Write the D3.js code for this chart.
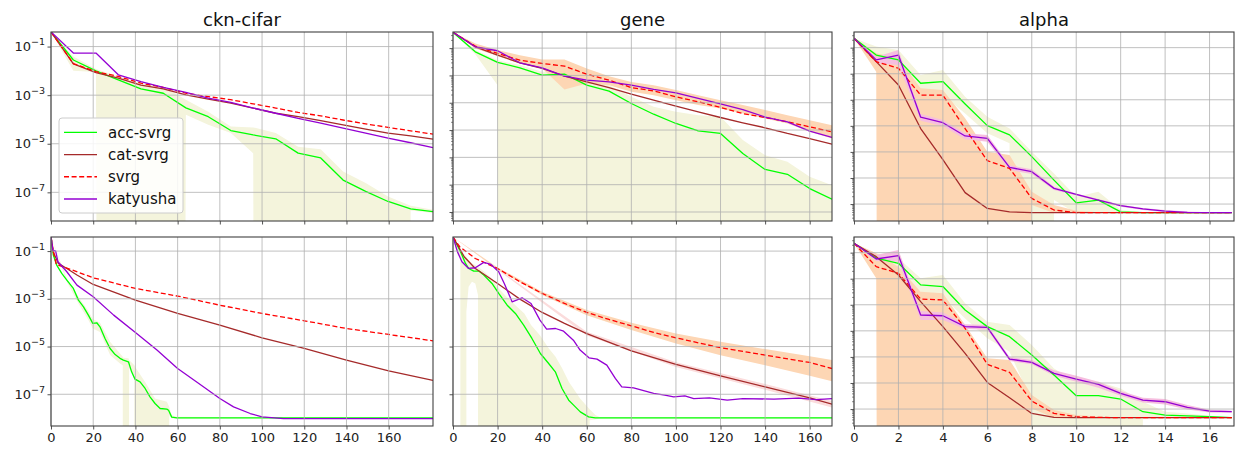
<!DOCTYPE html>
<html><head><meta charset="utf-8">
<script src="https://cdn.jsdelivr.net/npm/d3@7"></script>
<style>body{margin:0;background:#fff} svg{font-family:"DejaVu Sans",sans-serif;display:block}</style>
</head><body><svg id="c" width="1238" height="450"></svg>
<script>
// ---------------- DATA ----------------
const seriesNames = ["acc-svrg", "cat-svrg", "svrg", "katyusha"];
const panelTitles = ["ckn-cifar", "gene", "alpha"];
const xTicksLong = [0, 20, 40, 60, 80, 100, 120, 140, 160];
const xTicksAlpha = [0, 2, 4, 6, 8, 10, 12, 14, 16];
const yTickExp = [-1, -3, -5, -7];

// ckn-cifar, top row
const cknTopX = [0, 10.6, 21.3, 31.9, 42.6, 53.2, 63.9, 74.5, 85.2, 95.8, 106.5, 117.1, 127.8, 138.4, 149.1, 159.7, 170.4, 181];
const cknTopAcc = [0.4, 2.8e-2, 1.0e-2, 4.3e-3, 1.8e-3, 1.2e-3, 3.0e-4, 1.3e-4, 3.5e-5, 2.3e-5, 1.6e-5, 4.1e-6, 2.6e-6, 3.2e-7, 1.1e-7, 4.2e-8, 2.1e-8, 1.6e-8];
const cknTopAccHi = [0.4, 3.9e-2, 1.2e-2, 5.9e-3, 3.1e-3, 2.2e-3, 6.5e-4, 2.1e-4, 5.1e-5, 4.7e-5, 2.8e-5, 7.6e-6, 6.0e-6, 7.2e-7, 2.4e-7, 6.8e-8, 2.8e-8, 1.9e-8];
const cknTopAccLo = [0.4, 1.0e-2, 8.9e-3, 0, 0, 0, 1.55e-4, 6.0e-5, 2.8e-5, 4.1e-6, 0, 0, 0, 0, 0, 0, 1.8e-8, 1.4e-8];
const cknTopCat = [0.4, 1.95e-2, 8.5e-3, 5.0e-3, 2.6e-3, 1.8e-3, 1.02e-3, 6.9e-4, 4.7e-4, 2.95e-4, 1.8e-4, 1.3e-4, 8.9e-5, 6.0e-5, 4.0e-5, 2.75e-5, 2.1e-5, 1.55e-5];
const cknTopSvrg = [0.4, 2.0e-2, 9.3e-3, 5.9e-3, 3.1e-3, 2.1e-3, 1.2e-3, 8.7e-4, 6.5e-4, 4.4e-4, 2.95e-4, 1.95e-4, 1.4e-4, 9.5e-5, 6.6e-5, 4.7e-5, 3.4e-5, 2.5e-5];
const cknTopKat = [0.4, 5.4e-2, 5.4e-2, 6.9e-3, 3.6e-3, 2.1e-3, 1.3e-3, 7.6e-4, 5.0e-4, 2.95e-4, 1.8e-4, 1.1e-4, 7.1e-5, 4.4e-5, 2.75e-5, 1.7e-5, 1.1e-5, 6.9e-6];

// ckn-cifar, bottom row
const cknBotAccX = [0, 1.1, 2.7, 5.1, 7.5, 10.6, 13.0, 15.4, 17.7, 19.8, 21.7, 23.2, 25.6, 28.0, 30.4, 32.7, 34.3, 36.7, 38.2, 39.8, 42.2, 44.6, 46.9, 49.3, 51.7, 54.9, 55.7, 57.2, 59.6, 181];
const cknBotAcc = [0.4, 6.8e-2, 2.59e-2, 1.16e-2, 6.1e-3, 2.72e-3, 8.8e-4, 4.6e-4, 2.07e-4, 9.3e-5, 9.9e-5, 6.7e-5, 2.18e-5, 8.3e-6, 4.6e-6, 3.2e-6, 2.7e-6, 2.3e-6, 8.7e-7, 4.3e-7, 3.3e-7, 1.75e-7, 7.8e-8, 4.1e-8, 2.53e-8, 2.37e-8, 2.15e-8, 1.1e-8, 1.03e-8, 1.03e-8];
const cknBotAccBandX = [0, 7.5, 13, 17.7, 19.8, 23.2, 28, 32.7, 34.0, 34.3, 36.7, 37.0, 39.5, 39.8, 44.6, 49.3, 54.9, 56, 57.2, 59.6, 181];
const cknBotAccHi = [0.4, 7.1e-3, 1.22e-3, 3.05e-4, 1.41e-4, 1.02e-4, 1.58e-5, 5.1e-6, 3.7e-6, 3.4e-6, 3.2e-6, 2.7e-6, 1.66e-6, 1.41e-6, 3.3e-7, 6.6e-8, 4.8e-8, 2.97e-8, 1.33e-8, 1.13e-8, 1.03e-8];
const cknBotAccLo = [0.4, 5.2e-3, 6.4e-4, 1.28e-4, 5.7e-5, 4.1e-5, 4.4e-6, 1.95e-6, 1.66e-6, 0, 0, 1.2e-6, 6.3e-7, 0, 0, 0, 0, 1.33e-8, 9.6e-9, 9.6e-9, 1.03e-8];
const cknBotCatX = [0, 1, 3.5, 7.5, 12.3, 20, 40, 60, 80, 100, 120, 140, 160, 181];
const cknBotCat = [0.4, 9.4e-2, 3.04e-2, 1.87e-2, 9.9e-3, 4.0e-3, 8.8e-4, 2.43e-4, 7.9e-5, 2.32e-5, 8.3e-6, 2.7e-6, 9.6e-7, 3.8e-7];
const cknBotSvrgX = [0, 1, 2.5, 7.5, 20, 40, 60, 80, 100, 120, 140, 160, 181];
const cknBotSvrg = [0.4, 0.11, 2.76e-2, 1.94e-2, 7.6e-3, 2.72e-3, 1.3e-3, 5.4e-4, 2.43e-4, 1.2e-4, 5.7e-5, 3.2e-5, 1.74e-5];
const cknBotKatX = [0, 0.9, 2.2, 3.3, 7.5, 12.3, 20, 29.7, 40, 50.2, 60, 70.7, 80, 86.5, 94.4, 100, 110.2, 181];
const cknBotKat = [0.4, 0.11, 0.1, 3.57e-2, 1.36e-2, 3.75e-3, 1.22e-3, 2.07e-4, 3.9e-5, 7.1e-6, 1.2e-6, 2.56e-7, 6.6e-8, 2.97e-8, 1.56e-8, 1.13e-8, 9.6e-9, 9.6e-9];

// gene, top row
const geneTopX = [0, 10, 20, 30, 40, 50, 60, 70, 80, 90, 100, 110, 120, 130, 140, 150, 160, 170];
const geneTopAcc = [0.38, 7.3e-2, 3.0e-2, 1.9e-2, 1.02e-2, 1.12e-2, 4.4e-3, 2.66e-3, 9.4e-4, 3.8e-4, 1.74e-4, 9.4e-5, 7.5e-5, 1.38e-5, 3.6e-6, 2.4e-6, 7.2e-7, 2.95e-7];
const geneTopAccHi = [0.38, 8.5e-2, 3.6e-2, 2.4e-2, 1.36e-2, 1.36e-2, 6.7e-3, 4.4e-3, 1.65e-3, 7.1e-4, 4.66e-4, 3.5e-4, 3.05e-4, 4.3e-5, 1.2e-5, 6.9e-6, 1.94e-6, 9.6e-7];
const geneTopAccLo = [0.38, 6.0e-2, 4.4e-3, 0, 0, 0, 0, 0, 0, 0, 0, 0, 0, 0, 0, 0, 0, 0];
const geneTopCat = [0.38, 0.112, 5.5e-2, 2.9e-2, 1.8e-2, 9.4e-3, 5.8e-3, 3.6e-3, 2.07e-3, 1.24e-3, 7.5e-4, 4.66e-4, 2.88e-4, 1.84e-4, 1.21e-4, 7.5e-5, 4.9e-5, 3.04e-5];
const geneTopSvrg = [0.38, 0.118, 6.4e-2, 3.6e-2, 2.74e-2, 2.19e-2, 1.11e-2, 6.7e-3, 3.6e-3, 2.7e-3, 1.65e-3, 1.08e-3, 6.7e-4, 4.0e-4, 2.88e-4, 2.0e-4, 1.31e-4, 8.6e-5];
const geneTopSvrgHi = [0.38, 0.148, 8.5e-2, 5.5e-2, 3.85e-2, 3.85e-2, 1.8e-2, 9.4e-3, 5.8e-3, 4.4e-3, 2.9e-3, 1.9e-3, 1.24e-3, 8.2e-4, 5.4e-4, 3.5e-4, 2.3e-4, 1.51e-4];
const geneTopSvrgLo = [0.38, 9.7e-2, 5.1e-2, 2.74e-2, 1.8e-2, 3.06e-3, 5.1e-3, 4.4e-3, 2.5e-3, 1.9e-3, 1.24e-3, 8.2e-4, 6.2e-4, 4.0e-4, 2.65e-4, 1.74e-4, 8.6e-5, 4.9e-5];
const geneTopKat = [0.38, 0.112, 8.0e-2, 2.9e-2, 1.9e-2, 9.4e-3, 6.7e-3, 5.8e-3, 4.4e-3, 3.1e-3, 2.3e-3, 1.45e-3, 9.0e-4, 5.6e-4, 3.0e-4, 2.0e-4, 9.1e-5, 5.4e-5];

// gene, bottom row
const geneBotAccX = [0, 3.4, 5.6, 7, 9.3, 11.6, 13.8, 17.5, 20.5, 24.3, 28, 31.7, 35.4, 39.2, 42.9, 45.9, 48.9, 51.9, 54.1, 57.1, 60.8, 63.8, 170];
const geneBotAcc = [0.39, 9.4e-2, 3.04e-2, 1.87e-2, 1.45e-2, 1.45e-2, 9.9e-3, 4.4e-3, 1.68e-3, 5.4e-4, 2.43e-4, 7.9e-5, 2.18e-5, 5.1e-6, 1.95e-6, 8.7e-7, 1.75e-7, 5.65e-8, 3.5e-8, 1.83e-8, 1.13e-8, 1.03e-8, 1.03e-8];
const geneBotAccBandX = [0, 2, 3.3, 3.6, 5.6, 6, 7, 8.5, 10, 11.2, 11.6, 14, 17.5, 20.5, 24, 28, 32, 35, 39, 43, 46, 49, 52, 54, 57, 61, 61.3, 64, 66, 170];
const geneBotAccHi = [0.39, 0.15, 0.11, 0.1, 6.5e-2, 5.8e-2, 4.2e-2, 3.04e-2, 2.59e-2, 2.2e-2, 2.1e-2, 1.36e-2, 7.1e-3, 2.72e-3, 1.22e-3, 5.4e-4, 2.43e-4, 7.9e-5, 3.0e-5, 8.3e-6, 3.7e-6, 1.2e-6, 3.3e-7, 1.75e-7, 6.6e-8, 2.53e-8, 2.37e-8, 1.33e-8, 1.1e-8, 1.1e-8];
const geneBotAccLo = [0.39, 6.8e-2, 4.9e-2, 0, 0, 2.86e-4, 3.19e-3, 5.2e-3, 4.4e-3, 1.43e-3, 0, 0, 0, 0, 0, 0, 0, 0, 0, 0, 0, 0, 0, 0, 0, 0, 8.2e-9, 9.0e-9, 9.6e-9, 9.6e-9];
const geneBotCatX = [0, 5, 10, 20, 30, 40, 50, 60, 80, 100, 120, 140, 160, 170];
const geneBotCat = [0.39, 5.8e-2, 1.87e-2, 4.4e-3, 9.7e-4, 2.68e-4, 9.3e-5, 3.5e-5, 6.6e-6, 1.77e-6, 5.9e-7, 2.05e-7, 7.1e-8, 3.85e-8];
const geneBotCatBandX = [0, 60, 100, 140, 170];
const geneBotCatHi = [0.39, 4.2e-5, 2.2e-6, 2.7e-7, 5.2e-8];
const geneBotCatLo = [0.39, 2.9e-5, 1.4e-6, 1.55e-7, 2.8e-8];
const geneBotSvrgX = [0, 3, 10, 20, 30, 40, 50, 60, 70, 80, 90, 100, 120, 140, 160, 170];
const geneBotSvrg = [0.39, 0.152, 4.9e-2, 1.87e-2, 5.2e-3, 1.68e-3, 6.4e-4, 2.68e-4, 1.36e-4, 7.4e-5, 3.9e-5, 2.32e-5, 8.9e-6, 4.4e-6, 2.15e-6, 1.2e-6];
const geneBotSvrgBandX = [0, 20, 40, 60, 80, 100, 120, 140, 160, 170];
const geneBotSvrgHi = [0.39, 2.07e-2, 1.97e-3, 3.36e-4, 9.9e-5, 3.5e-5, 1.58e-5, 7.8e-6, 3.95e-6, 2.7e-6];
const geneBotSvrgLo = [0.39, 1.7e-2, 1.43e-3, 2.07e-4, 4.9e-5, 1.34e-5, 4.36e-6, 1.66e-6, 5.9e-7, 3.5e-7];
const geneBotKatX = [0, 2, 4, 7, 10, 13.8, 17, 20.5, 23, 26.5, 31, 35, 39, 42, 46, 49.6, 54, 57, 61, 64.6, 69, 72.8, 75.7, 81, 90, 95, 99, 104, 108, 115, 123, 130, 144, 155, 163, 170];
const geneBotKat = [0.39, 9.4e-2, 3.57e-2, 1.87e-2, 2.0e-2, 3.35e-2, 2.76e-2, 1.36e-2, 4.4e-3, 7.5e-4, 1.1e-3, 6.4e-4, 1.28e-4, 5.4e-5, 5.7e-5, 4.4e-5, 1.85e-5, 7.1e-6, 3.36e-6, 2.96e-6, 1.66e-6, 4.6e-7, 2.05e-7, 1.86e-7, 1.08e-7, 9.2e-8, 7.8e-8, 8.6e-8, 6.6e-8, 7.1e-8, 5.65e-8, 6.6e-8, 6.2e-8, 6.9e-8, 6.0e-8, 6.6e-8];

// alpha, both rows (x = epochs 0..17)
const alphaX = [0, 1, 2, 3, 4, 5, 6, 7, 8, 9, 10, 11, 12, 13, 14, 15, 16, 17];
const alphaTopAcc = [0.23, 5.2e-2, 3.4e-2, 4.3e-3, 5.0e-3, 6.9e-4, 1.02e-4, 4.5e-5, 6.6e-6, 8.3e-7, 1.12e-7, 1.41e-7, 5.0e-8, 4.7e-8, 4.7e-8, 4.7e-8, 4.7e-8, 4.7e-8];
const alphaTopAccHi = [0.23, 0.11, 8.2e-2, 8.9e-3, 1.39e-2, 1.32e-3, 2.25e-4, 8.0e-5, 1.02e-5, 1.5e-6, 1.91e-7, 2.97e-7, 5.9e-8, 4.9e-8, 4.9e-8, 4.9e-8, 4.9e-8, 4.9e-8];
const alphaTopAccLo = [0.23, 2.9e-2, 1.61e-2, 2.05e-3, 1.53e-3, 3.0e-4, 5.2e-5, 2.13e-5, 0, 1.42e-7, 4.4e-8, 4.4e-8, 4.4e-8, 4.4e-8, 4.4e-8, 4.4e-8, 4.4e-8, 4.4e-8];
const alphaTopCat = [0.23, 2.9e-2, 3.7e-3, 7.9e-5, 5.1e-6, 2.75e-7, 6.8e-8, 5.0e-8, 4.7e-8, 4.7e-8, 4.7e-8, 4.7e-8, 4.7e-8, 4.7e-8, 4.7e-8, 4.7e-8, 4.7e-8, 4.7e-8];
const alphaTopSvrg = [0.23, 2.9e-2, 1.62e-2, 1.51e-3, 1.51e-3, 7.9e-5, 4.6e-6, 2.34e-6, 1.66e-7, 5.9e-8, 4.7e-8, 4.7e-8, 4.7e-8, 4.7e-8, 4.7e-8, 4.7e-8, 4.7e-8, 4.7e-8];
const alphaTopSvrgHi = [0.23, 6.1e-2, 3.9e-2, 2.75e-3, 2.38e-3, 1.94e-4, 1.02e-5, 7.6e-6, 2.97e-7, 9.2e-8, 5.5e-8, 4.9e-8, 4.9e-8, 4.9e-8, 4.9e-8, 4.9e-8, 4.9e-8, 4.9e-8];
const alphaTopSvrgLo = [0.23, 1.2e-2, 0, 0, 0, 0, 0, 0, 9.2e-8, 4.5e-8, 4.5e-8, 4.5e-8, 4.5e-8, 4.5e-8, 4.5e-8, 4.5e-8, 4.5e-8, 4.5e-8];
const alphaTopKat = [0.23, 3.4e-2, 5.2e-2, 2.14e-4, 1.32e-4, 4.1e-5, 3.3e-5, 2.57e-6, 1.74e-6, 4.0e-7, 2.34e-7, 1.41e-7, 8.7e-8, 6.5e-8, 5.4e-8, 4.8e-8, 4.7e-8, 4.7e-8];
const alphaTopKatHi = [0.23, 4.5e-2, 8.2e-2, 2.85e-4, 1.68e-4, 5.2e-5, 4.5e-5, 3.1e-6, 2.14e-6, 4.6e-7, 2.56e-7, 1.56e-7, 9.4e-8, 7.0e-8, 5.9e-8, 5.2e-8, 4.9e-8, 4.9e-8];
const alphaTopKatLo = [0.23, 2.5e-2, 2.17e-2, 1.58e-4, 9.9e-5, 3.03e-5, 2.47e-5, 2.02e-6, 1.42e-6, 3.44e-7, 2.15e-7, 1.3e-7, 7.9e-8, 5.9e-8, 4.9e-8, 4.4e-8, 4.4e-8, 4.4e-8];

const alphaBotAcc = [0.23, 6.1e-2, 3.9e-2, 5.8e-3, 5.0e-3, 6.3e-4, 1.45e-4, 6.0e-5, 1.18e-5, 2.02e-6, 3.25e-7, 3.25e-7, 2.42e-7, 7.9e-8, 5.9e-8, 5.5e-8, 5.1e-8, 4.65e-8];
const alphaBotAccHi = [0.23, 9.4e-2, 6.1e-2, 1.04e-2, 1.39e-2, 1.14e-3, 2.25e-4, 1.68e-4, 2.86e-5, 3.6e-6, 1.12e-6, 1.12e-6, 6.2e-7, 1.91e-7, 7.9e-8, 6.8e-8, 5.5e-8, 4.9e-8];
const alphaBotAccLo = [0.23, 4.5e-2, 2.5e-2, 3.19e-3, 2.05e-3, 3.0e-4, 5.2e-5, 1.59e-5, 1.91e-7, 0, 0, 0, 0, 4.4e-8, 4.4e-8, 4.4e-8, 4.4e-8, 4.4e-8];
const alphaBotCat = [0.23, 7.0e-2, 1.39e-2, 1.32e-3, 1.45e-4, 1.37e-5, 1.05e-6, 2.72e-7, 6.8e-8, 4.8e-8, 4.65e-8, 4.65e-8, 4.65e-8, 4.65e-8, 4.65e-8, 4.65e-8, 4.65e-8, 4.65e-8];
const alphaBotSvrg = [0.23, 2.9e-2, 1.61e-2, 1.67e-3, 1.53e-3, 1.25e-4, 5.2e-6, 2.55e-6, 2.03e-7, 6.8e-8, 5.1e-8, 4.8e-8, 4.65e-8, 4.65e-8, 4.65e-8, 4.65e-8, 4.65e-8, 4.65e-8];
const alphaBotSvrgHi = [0.23, 9.4e-2, 2.9e-2, 3.19e-3, 2.75e-3, 1.68e-4, 8.8e-6, 7.6e-6, 3.44e-7, 9.1e-8, 5.9e-8, 5.2e-8, 4.9e-8, 4.9e-8, 4.9e-8, 4.9e-8, 4.9e-8, 4.9e-8];
const alphaBotSvrgLo = [0.23, 1.04e-2, 0, 0, 0, 0, 0, 0, 1.06e-7, 4.65e-8, 4.4e-8, 4.4e-8, 4.4e-8, 4.4e-8, 4.4e-8, 4.4e-8, 4.4e-8, 4.4e-8];
const alphaBotKat = [0.23, 5.7e-2, 7.7e-2, 4.06e-4, 3.8e-4, 1.45e-4, 1.36e-4, 8.3e-6, 6.2e-6, 2.34e-6, 1.42e-6, 8.9e-7, 4.0e-7, 2.2e-7, 1.91e-7, 1.16e-7, 8.4e-8, 7.9e-8];
const alphaBotKatHi = [0.23, 8.1e-2, 0.127, 5.8e-4, 5.1e-4, 1.78e-4, 1.68e-4, 9.9e-6, 7.6e-6, 3.05e-6, 1.9e-6, 1.12e-6, 4.9e-7, 2.72e-7, 2.42e-7, 1.42e-7, 9.4e-8, 8.6e-8];
const alphaBotKatLo = [0.23, 4.8e-2, 4.5e-2, 2.6e-4, 2.6e-4, 1.18e-4, 1.11e-4, 6.95e-6, 5.2e-6, 1.9e-6, 1.12e-6, 6.6e-7, 3.25e-7, 1.8e-7, 1.51e-7, 9.7e-8, 7.4e-8, 7.2e-8];

// ---------------- STYLE / LAYOUT ----------------
const lineColor = {acc: "#00ff00", cat: "#a52a2a", svrg: "#ff0000", kat: "#9400d3"};
const bandColor = {acc: "#f4f4dc", cat: "#fbdcdc", svrg: "#fdd6b4", kat: "#f6bedf"};
const keyOrder = ["acc", "cat", "svrg", "kat"];
const colX = [[51, 433], [453, 832], [854, 1234]];
const rowY = [[32, 221], [237, 426]];
const gridColor = "#b0b0b0";
const spineColor = "#404040";
const tickFont = 13;

const panels = [
  {col: 0, row: 0, xmax: 181, xticks: xTicksLong, yexp: [-8.18, -0.40], major: "odd", minor: false,
   bands: [{k: "acc", x: cknTopX, hi: cknTopAccHi, lo: cknTopAccLo}],
   lines: [{k: "acc", x: cknTopX, y: cknTopAcc}, {k: "cat", x: cknTopX, y: cknTopCat}, {k: "svrg", x: cknTopX, y: cknTopSvrg}, {k: "kat", x: cknTopX, y: cknTopKat}]},
  {col: 0, row: 1, xmax: 181, xticks: xTicksLong, yexp: [-8.33, -0.41], major: "odd", minor: false,
   bands: [{k: "acc", x: cknBotAccBandX, hi: cknBotAccHi, lo: cknBotAccLo}],
   lines: [{k: "acc", x: cknBotAccX, y: cknBotAcc}, {k: "cat", x: cknBotCatX, y: cknBotCat}, {k: "svrg", x: cknBotSvrgX, y: cknBotSvrg}, {k: "kat", x: cknBotKatX, y: cknBotKat}]},
  {col: 1, row: 0, xmax: 170, xticks: xTicksLong, yexp: [-7.33, -0.41], major: "all", minor: true,
   bands: [{k: "acc", x: geneTopX, hi: geneTopAccHi, lo: geneTopAccLo}, {k: "svrg", x: geneTopX, hi: geneTopSvrgHi, lo: geneTopSvrgLo}],
   lines: [{k: "acc", x: geneTopX, y: geneTopAcc}, {k: "cat", x: geneTopX, y: geneTopCat}, {k: "svrg", x: geneTopX, y: geneTopSvrg}, {k: "kat", x: geneTopX, y: geneTopKat}]},
  {col: 1, row: 1, xmax: 170, xticks: xTicksLong, yexp: [-8.33, -0.41], major: "odd", minor: false,
   bands: [{k: "acc", x: geneBotAccBandX, hi: geneBotAccHi, lo: geneBotAccLo}, {k: "cat", x: geneBotCatBandX, hi: geneBotCatHi, lo: geneBotCatLo}, {k: "svrg", x: geneBotSvrgBandX, hi: geneBotSvrgHi, lo: geneBotSvrgLo}],
   lines: [{k: "acc", x: geneBotAccX, y: geneBotAcc}, {k: "cat", x: geneBotCatX, y: geneBotCat}, {k: "svrg", x: geneBotSvrgX, y: geneBotSvrg}, {k: "kat", x: geneBotKatX, y: geneBotKat}]},
  {col: 2, row: 0, xmax: 17.1, xticks: xTicksAlpha, yexp: [-7.65, -0.40], major: "all", minor: true,
   bands: [{k: "acc", x: alphaX, hi: alphaTopAccHi, lo: alphaTopAccLo}, {k: "svrg", x: alphaX, hi: alphaTopSvrgHi, lo: alphaTopSvrgLo}, {k: "kat", x: alphaX, hi: alphaTopKatHi, lo: alphaTopKatLo}],
   lines: [{k: "acc", x: alphaX, y: alphaTopAcc}, {k: "cat", x: alphaX, y: alphaTopCat}, {k: "svrg", x: alphaX, y: alphaTopSvrg}, {k: "kat", x: alphaX, y: alphaTopKat}]},
  {col: 2, row: 1, xmax: 17.1, xticks: xTicksAlpha, yexp: [-7.65, -0.40], major: "all", minor: true,
   bands: [{k: "acc", x: alphaX, hi: alphaBotAccHi, lo: alphaBotAccLo}, {k: "svrg", x: alphaX, hi: alphaBotSvrgHi, lo: alphaBotSvrgLo}, {k: "kat", x: alphaX, hi: alphaBotKatHi, lo: alphaBotKatLo}],
   lines: [{k: "acc", x: alphaX, y: alphaBotAcc}, {k: "cat", x: alphaX, y: alphaBotCat}, {k: "svrg", x: alphaX, y: alphaBotSvrg}, {k: "kat", x: alphaX, y: alphaBotKat}]}
];

// ---------------- DRAW ----------------
const svg = d3.select("#c");
const defs = svg.append("defs");
const FLOOR = 1e-300; // non-positive lower bounds are clipped like matplotlib does

panels.forEach((p, pi) => {
  const [x0, x1] = colX[p.col], [y0, y1] = rowY[p.row];
  const x = d3.scaleLinear().domain([0, p.xmax]).range([x0, x1]);
  const y = d3.scaleLog().domain([Math.pow(10, p.yexp[0]), Math.pow(10, p.yexp[1])]).range([y1, y0]);
  const clipId = "clip" + pi;
  defs.append("clipPath").attr("id", clipId).append("rect")
    .attr("x", x0).attr("y", y0).attr("width", x1 - x0).attr("height", y1 - y0);
  const g = svg.append("g");
  const plot = g.append("g").attr("clip-path", `url(#${clipId})`);

  p.bands.forEach(b => {
    const pts = b.x.map((xv, i) => ({x: xv, hi: b.hi[i], lo: b.lo[i] > 0 ? b.lo[i] : FLOOR}));
    const area = d3.area().x(d => x(d.x)).y0(d => y(d.lo)).y1(d => y(d.hi));
    plot.append("path").attr("d", area(pts)).attr("fill", bandColor[b.k]).attr("stroke", "none");
  });

  const lo = Math.ceil(p.yexp[0]), hi = Math.floor(p.yexp[1]);
  const majors = [];
  for (let e = hi; e >= lo; e--) {
    if (p.major === "all" || Math.abs(e) % 2 === 1) majors.push(Math.pow(10, e));
  }
  const gg = g.append("g");
  gg.selectAll("line.gx").data(p.xticks).join("line")
    .attr("x1", d => x(d)).attr("x2", d => x(d)).attr("y1", y0).attr("y2", y1)
    .attr("stroke", gridColor).attr("stroke-width", 0.8);
  gg.selectAll("line.gy").data(majors).join("line")
    .attr("x1", x0).attr("x2", x1).attr("y1", d => y(d)).attr("y2", d => y(d))
    .attr("stroke", gridColor).attr("stroke-width", 0.8);

  p.lines.forEach(l => {
    const pts = l.x.map((xv, i) => [xv, l.y[i]]);
    const line = d3.line().x(d => x(d[0])).y(d => y(d[1]));
    const path = plot.append("path").attr("d", line(pts)).attr("fill", "none")
      .attr("stroke", lineColor[l.k]).attr("stroke-width", 1.3).attr("stroke-linejoin", "round");
    if (l.k === "svrg") path.attr("stroke-dasharray", "5,2.6");
  });

  const yAxis = d3.axisLeft(y).tickValues(majors).tickSize(3.5).tickFormat(() => "");
  const ya = g.append("g").attr("transform", `translate(${x0},0)`).call(yAxis);
  if (p.minor) {
    const minors = [];
    for (let e = Math.floor(p.yexp[0]); e <= Math.ceil(p.yexp[1]); e++) {
      for (let m = 2; m <= 9; m++) {
        const v = m * Math.pow(10, e);
        if (Math.log10(v) > p.yexp[0] && Math.log10(v) < p.yexp[1]) minors.push(v);
      }
    }
    g.append("g").attr("transform", `translate(${x0},0)`)
      .call(d3.axisLeft(y).tickValues(minors).tickSize(2).tickFormat(() => ""))
      .call(s => s.select(".domain").remove())
      .selectAll("line").attr("stroke", spineColor).attr("stroke-width", 0.6);
  }
  ya.select(".domain").remove();
  ya.selectAll("line").attr("stroke", spineColor).attr("stroke-width", 0.9);
  if (p.col === 0) {
    majors.forEach(v => {
      const e = Math.round(Math.log10(v));
      const t = g.append("text").attr("x", x0 - 6).attr("y", y(v) + 4.5)
        .attr("text-anchor", "end").attr("font-size", tickFont).attr("fill", "#222");
      t.append("tspan").text("10");
      t.append("tspan").attr("dy", -6).attr("font-size", 9.5).text("\u2212" + Math.abs(e));
    });
  }
  const xa = g.append("g").attr("transform", `translate(0,${y1})`)
    .call(d3.axisBottom(x).tickValues(p.xticks).tickSize(3.5).tickPadding(3)
      .tickFormat(p.row === 1 ? d3.format("d") : () => ""));
  xa.select(".domain").remove();
  xa.selectAll("line").attr("stroke", spineColor).attr("stroke-width", 0.9);
  xa.selectAll("text").attr("font-size", tickFont).attr("fill", "#222")
    .attr("font-family", "DejaVu Sans, sans-serif");

  g.append("rect").attr("x", x0).attr("y", y0).attr("width", x1 - x0).attr("height", y1 - y0)
    .attr("fill", "none").attr("stroke", spineColor).attr("stroke-width", 1.1);

  if (p.row === 0) {
    g.append("text").attr("x", (x0 + x1) / 2).attr("y", 26).attr("text-anchor", "middle")
      .attr("font-size", 18).attr("fill", "#111").text(panelTitles[p.col]);
  }
});

// legend (top-left panel)
const lg = svg.append("g");
lg.append("rect").attr("x", 59).attr("y", 118).attr("width", 124).attr("height", 95)
  .attr("rx", 3).attr("fill", "#fff").attr("fill-opacity", 0.85).attr("stroke", "#cccccc").attr("stroke-width", 1);
const legY = d3.scalePoint().domain(keyOrder).range([132.3, 199]);
keyOrder.forEach((k, i) => {
  const yy = legY(k);
  const l = lg.append("line").attr("x1", 64).attr("x2", 97).attr("y1", yy).attr("y2", yy)
    .attr("stroke", lineColor[k]).attr("stroke-width", 1.3);
  if (k === "svrg") l.attr("stroke-dasharray", "5,2.6");
  lg.append("text").attr("x", 108).attr("y", yy + 5.2).attr("font-size", 15).attr("fill", "#111").text(seriesNames[i]);
});
</script>
</body></html>
